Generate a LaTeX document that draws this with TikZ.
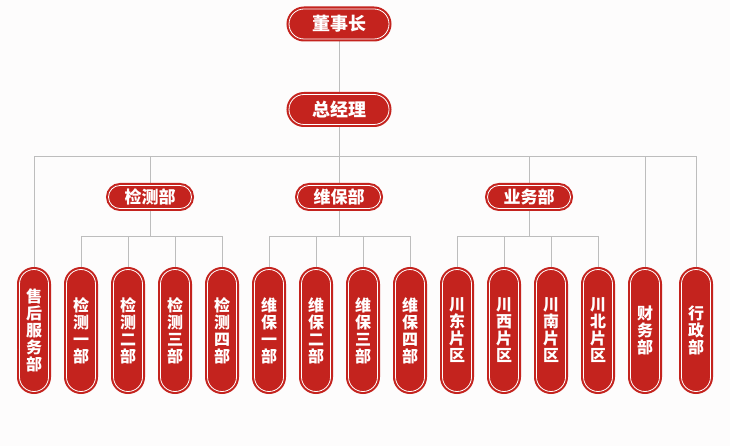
\documentclass[tikz,border=0pt]{standalone}
\usepackage{fontspec}
\setmainfont{Noto Sans CJK SC}
\usetikzlibrary{backgrounds}
\definecolor{pillred}{HTML}{C4231E}
\definecolor{linegray}{HTML}{BDBDBD}
\definecolor{bgc}{HTML}{FDFCFC}
\tikzset{
  pillbase/.style={draw=white, line width=0.8pt, fill=pillred, text=white, inner sep=0pt,
    font=\bfseries, preaction={draw=pillred, line width=5pt}},
  hpill/.style={pillbase, minimum width=#1, minimum height=30pt, rounded corners=15pt, font=\bfseries\fontsize{18}{20}\selectfont},
  spill/.style={pillbase, minimum width=83pt, minimum height=23pt, rounded corners=11.5pt, font=\bfseries\fontsize{17}{19}\selectfont},
  vpill/.style={pillbase, minimum width=29pt, minimum height=122pt, rounded corners=14.5pt, align=center, font=\bfseries\fontsize{16}{17}\selectfont},
  conn/.style={draw=linegray, line width=1pt}
}
\begin{document}
\begin{tikzpicture}[x=1pt,y=-1pt]
\useasboundingbox (0,0) rectangle (730,446);
\node[hpill=100pt] (dsz) at (339,24) {董事长};
\node[hpill=100pt] (zjl) at (339,109.5) {总经理};
\node[spill] (jcb) at (150,197) {检测部};
\node[spill] (wbb) at (339,197) {维保部};
\node[spill] (ywb) at (529,197) {业务部};
\node[vpill] (shfw) at (34,330.5) {售\\后\\服\\务\\部};
\node[vpill] (jc1) at (81,330.5) {检\\测\\一\\部};
\node[vpill] (jc2) at (128,330.5) {检\\测\\二\\部};
\node[vpill] (jc3) at (175,330.5) {检\\测\\三\\部};
\node[vpill] (jc4) at (222,330.5) {检\\测\\四\\部};
\node[vpill] (wb1) at (269,330.5) {维\\保\\一\\部};
\node[vpill] (wb2) at (316,330.5) {维\\保\\二\\部};
\node[vpill] (wb3) at (363,330.5) {维\\保\\三\\部};
\node[vpill] (wb4) at (410,330.5) {维\\保\\四\\部};
\node[vpill] (cd) at (457,330.5) {川\\东\\片\\区};
\node[vpill] (cx) at (504,330.5) {川\\西\\片\\区};
\node[vpill] (cn) at (551,330.5) {川\\南\\片\\区};
\node[vpill] (cb) at (598,330.5) {川\\北\\片\\区};
\node[vpill] (cw) at (645,330.5) {财\\务\\部};
\node[vpill] (xz) at (696,330.5) {行\\政\\部};
\coordinate (bar) at (339,157);
\coordinate (jbar) at (150,237);
\begin{scope}[on background layer]
\fill[bgc] (0,0) rectangle (730,446);
\draw[conn] (dsz) -- (zjl);
\draw[conn] (zjl.south) -- (bar);
\draw[conn] (shfw.north) -- (shfw.north |- bar) -| (xz.north);
\foreach \n in {jcb,wbb,ywb,cw} \draw[conn] (\n.north) -- (\n.north |- bar);
\draw[conn] (jc1.north) -- (jc1.north |- jbar) -| (jc4.north);
\draw[conn] (jcb.south) -- (jcb.south |- jbar);
\foreach \n in {jc2,jc3} \draw[conn] (\n.north) -- (\n.north |- jbar);
\draw[conn] (wb1.north) -- (wb1.north |- jbar) -| (wb4.north);
\draw[conn] (wbb.south) -- (wbb.south |- jbar);
\foreach \n in {wb2,wb3} \draw[conn] (\n.north) -- (\n.north |- jbar);
\draw[conn] (cd.north) -- (cd.north |- jbar) -| (cb.north);
\draw[conn] (ywb.south) -- (ywb.south |- jbar);
\foreach \n in {cx,cn} \draw[conn] (\n.north) -- (\n.north |- jbar);
\end{scope}
\end{tikzpicture}
\end{document}
